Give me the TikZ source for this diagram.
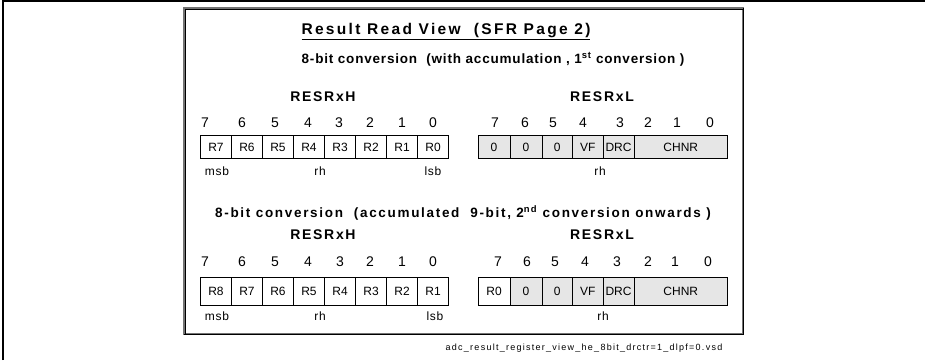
\documentclass[tikz,border=0pt]{standalone}
\usepackage{fontspec}
\setmainfont{Liberation Sans}
\usepackage{xcolor}
\usepackage{tikz}
\definecolor{cellgray}{HTML}{E6E6E6}
\newcommand{\spaced}[1]{\addfontfeature{LetterSpace=#1}}

\begin{document}
\begin{tikzpicture}[x=1pt,y=-1pt,
  cellw/.style={draw,inner sep=0pt,line width=0.6pt,font=\fontsize{12}{14}\selectfont},
  cellg/.style={cellw,fill=cellgray},
  bitno/.style={inner sep=0pt,font=\fontsize{14}{16}\selectfont},
  lbl/.style={inner sep=0pt,font=\fontsize{12}{14}\selectfont\spaced{6}},
  regname/.style={inner sep=0pt,font=\bfseries\fontsize{14}{16}\selectfont\spaced{12}},
  heading/.style={inner sep=0pt,font=\bfseries\fontsize{13.5}{16}\selectfont\spaced{6}}]
  \useasboundingbox (0,0) rectangle (925,360);
  % page frame and inner box
  \draw[line width=1.5pt] (3,360) -- (3,1) -- (925,1);
  \draw[line width=1.4pt,draw=black!55] (184,8) rectangle (743,334);
  \draw[line width=0.6pt] (185.5,334) -- (185.5,9.5) -- (743,9.5);
  \draw[line width=0.8pt] (184,334) -- (743,334) -- (743,8);
  \node[heading,font=\bfseries\fontsize{15.5}{18}\selectfont\spaced{15}] (title) at (446,32) {\underline{Result Read View~ (SFR Page 2)}};
  % first conversion
  \node[heading] (sub1) at (493,59) {8-bit conversion~ (with accumulation , 1\textsuperscript{st} conversion )};
  \node[regname] (h1name) at (323,97) {RESRxH};
  \node[regname] (l1name) at (602,97) {RESRxL};
  \node[bitno] (h1b7) at (205,123) {7};
  \node[bitno] (h1b6) at (242,123) {6};
  \node[bitno] (h1b5) at (275,123) {5};
  \node[bitno] (h1b4) at (308,123) {4};
  \node[bitno] (h1b3) at (339,123) {3};
  \node[bitno] (h1b2) at (370,123) {2};
  \node[bitno] (h1b1) at (402,123) {1};
  \node[bitno] (h1b0) at (433,123) {0};
  \node[bitno] (l1b7) at (495,123) {7};
  \node[bitno] (l1b6) at (525,123) {6};
  \node[bitno] (l1b5) at (553,123) {5};
  \node[bitno] (l1b4) at (583,123) {4};
  \node[bitno] (l1b3) at (620,123) {3};
  \node[bitno] (l1b2) at (648,123) {2};
  \node[bitno] (l1b1) at (677,123) {1};
  \node[bitno] (l1b0) at (710,123) {0};
  \node[cellw,minimum width=31pt,minimum height=22.5pt] (h1c7) at (216,147) {R7};
  \node[cellw,minimum width=31pt,minimum height=22.5pt] (h1c6) at (247,147) {R6};
  \node[cellw,minimum width=31pt,minimum height=22.5pt] (h1c5) at (278,147) {R5};
  \node[cellw,minimum width=31pt,minimum height=22.5pt] (h1c4) at (309,147) {R4};
  \node[cellw,minimum width=31pt,minimum height=22.5pt] (h1c3) at (340,147) {R3};
  \node[cellw,minimum width=31pt,minimum height=22.5pt] (h1c2) at (371,147) {R2};
  \node[cellw,minimum width=31pt,minimum height=22.5pt] (h1c1) at (402,147) {R1};
  \node[cellw,minimum width=31pt,minimum height=22.5pt] (h1c0) at (433,147) {R0};
  \node[cellg,minimum width=32pt,minimum height=22.5pt] (l1z7) at (494,147) {0};
  \node[cellg,minimum width=32pt,minimum height=22.5pt] (l1z6) at (526,147) {0};
  \node[cellg,minimum width=30.5pt,minimum height=22.5pt] (l1z5) at (557.25,147) {0};
  \node[cellg,minimum width=30.5pt,minimum height=22.5pt] (l1vf) at (587.75,147) {VF};
  \node[cellg,minimum width=31pt,minimum height=22.5pt] (l1drc) at (618.5,147) {DRC};
  \node[cellg,minimum width=93.5pt,minimum height=22.5pt] (l1chnr) at (680.75,147) {CHNR};
  \node[lbl] (h1msb) at (217,171) {msb};
  \node[lbl] (h1rh) at (320,171) {rh};
  \node[lbl] (h1lsb) at (433,171) {lsb};
  \node[lbl] (l1rh) at (600,171) {rh};
  % second conversion onwards
  \node[heading,font=\bfseries\fontsize{13.5}{16}\selectfont\spaced{12.5}] (sub2) at (463,213) {8-bit conversion~ (accumulated~ 9-bit, 2\textsuperscript{nd} conversion onwards )};
  \node[regname] (h2name) at (323,235) {RESRxH};
  \node[regname] (l2name) at (602,235) {RESRxL};
  \node[bitno] (h2b7) at (205,262) {7};
  \node[bitno] (h2b6) at (242,262) {6};
  \node[bitno] (h2b5) at (275,262) {5};
  \node[bitno] (h2b4) at (308,262) {4};
  \node[bitno] (h2b3) at (340,262) {3};
  \node[bitno] (h2b2) at (370,262) {2};
  \node[bitno] (h2b1) at (402,262) {1};
  \node[bitno] (h2b0) at (433,262) {0};
  \node[bitno] (l2b7) at (498,262) {7};
  \node[bitno] (l2b6) at (527,262) {6};
  \node[bitno] (l2b5) at (555,262) {5};
  \node[bitno] (l2b4) at (585,262) {4};
  \node[bitno] (l2b3) at (617,262) {3};
  \node[bitno] (l2b2) at (648,262) {2};
  \node[bitno] (l2b1) at (675,262) {1};
  \node[bitno] (l2b0) at (708,262) {0};
  \node[cellw,minimum width=31pt,minimum height=28pt] (h2c7) at (216,291) {R8};
  \node[cellw,minimum width=31pt,minimum height=28pt] (h2c6) at (247,291) {R7};
  \node[cellw,minimum width=31pt,minimum height=28pt] (h2c5) at (278,291) {R6};
  \node[cellw,minimum width=31pt,minimum height=28pt] (h2c4) at (309,291) {R5};
  \node[cellw,minimum width=31pt,minimum height=28pt] (h2c3) at (340,291) {R4};
  \node[cellw,minimum width=31pt,minimum height=28pt] (h2c2) at (371,291) {R3};
  \node[cellw,minimum width=31pt,minimum height=28pt] (h2c1) at (402,291) {R2};
  \node[cellw,minimum width=31pt,minimum height=28pt] (h2c0) at (433,291) {R1};
  \node[cellw,minimum width=32pt,minimum height=28pt] (l2r0) at (494,291) {R0};
  \node[cellg,minimum width=32pt,minimum height=28pt] (l2z6) at (526,291) {0};
  \node[cellg,minimum width=30.5pt,minimum height=28pt] (l2z5) at (557.25,291) {0};
  \node[cellg,minimum width=30.5pt,minimum height=28pt] (l2vf) at (587.75,291) {VF};
  \node[cellg,minimum width=31pt,minimum height=28pt] (l2drc) at (618.5,291) {DRC};
  \node[cellg,minimum width=93.5pt,minimum height=28pt] (l2chnr) at (680.75,291) {CHNR};
  \node[lbl] (h2msb) at (217,316) {msb};
  \node[lbl] (h2rh) at (320,316) {rh};
  \node[lbl] (h2lsb) at (435,316) {lsb};
  \node[lbl] (l2rh) at (603,316) {rh};
  % file name
  \node[lbl,font=\fontsize{9}{11}\selectfont\spaced{14}] (fname) at (584,348) {adc\_result\_register\_view\_he\_8bit\_drctr=1\_dlpf=0.vsd};
\end{tikzpicture}
\end{document}
